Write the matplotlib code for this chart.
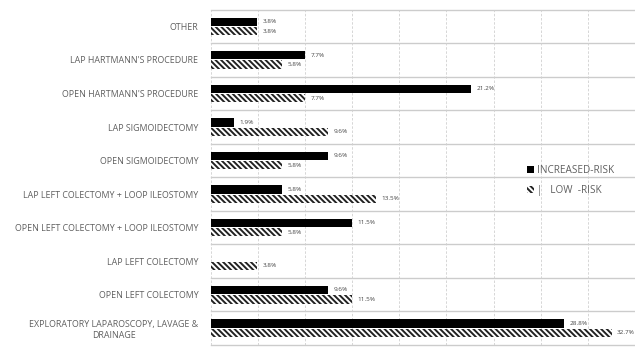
import numpy as np
import matplotlib
matplotlib.use('Agg')
import matplotlib.pyplot as plt

# data (percent of patients)
categories = ['OTHER', "LAP HARTMANN'S PROCEDURE", "OPEN HARTMANN'S PROCEDURE",
              'LAP SIGMOIDECTOMY', 'OPEN SIGMOIDECTOMY',
              'LAP LEFT COLECTOMY + LOOP ILEOSTOMY',
              'OPEN LEFT COLECTOMY + LOOP ILEOSTOMY',
              'LAP LEFT COLECTOMY', 'OPEN LEFT COLECTOMY',
              'EXPLORATORY LAPAROSCOPY, LAVAGE &\nDRAINAGE']
increased_risk = [3.8, 7.7, 21.2, 1.9, 9.6, 5.8, 11.5, 0.0, 9.6, 28.8]
low_risk = [3.8, 5.8, 7.7, 9.6, 5.8, 13.5, 5.8, 3.8, 11.5, 32.7]

plt.rcParams['font.family'] = ['Open Sans', 'DejaVu Sans']
plt.rcParams['hatch.linewidth'] = 1.4

fig = plt.figure(figsize=(6.35, 3.47), dpi=100)
ax = fig.add_axes([0.332, 0.006, 0.668, 0.966])

y = np.arange(len(categories))
h = 0.25
b1 = ax.barh(y - 0.14, increased_risk, height=h, color='black',
             linewidth=0, label='INCREASED-RISK')
b2 = ax.barh(y + 0.14, low_risk, height=h, color='white',
             edgecolor='#222222', linewidth=0, hatch='\\\\\\\\\\\\',
             label='|   LOW  -RISK')

lab1 = ['' if v == 0 else '%.1f%%' % v for v in increased_risk]
lab2 = ['' if v == 0 else '%.1f%%' % v for v in low_risk]
ax.bar_label(b1, labels=lab1, padding=4, fontsize=4.6, color='#444444')
ax.bar_label(b2, labels=lab2, padding=4, fontsize=4.6, color='#444444')

ax.set_ylim(len(categories) - 0.5, -0.5)
ax.set_xlim(0, 34.4)
ax.set_yticks(y)
ax.set_yticklabels(categories, fontsize=6.4, color='#606060',
                   multialignment='center')
ax.set_xticks(np.arange(0, 35, 100 / 26))
ax.tick_params(axis='both', which='both', length=0, pad=9)
ax.tick_params(axis='x', labelbottom=False)

ax.grid(axis='x', which='major', color='#d0d0d0', linestyle=(0, (3, 2)),
        linewidth=0.6)
for yb in np.arange(-0.5, len(categories), 1):
    ax.axhline(yb, color='#cccccc', linewidth=1.0, clip_on=False, zorder=0.5)
ax.set_axisbelow(True)
for s in ax.spines.values():
    s.set_visible(False)

leg = fig.legend(loc='upper left', bbox_to_anchor=(0.815, 0.55),
                 frameon=False, fontsize=7.2, handlelength=0.7,
                 handleheight=0.7, handletextpad=0.3, labelspacing=0.9)
for t in leg.get_texts():
    t.set_color('#606060')

fig.savefig('out.png', dpi=100, facecolor='white')
